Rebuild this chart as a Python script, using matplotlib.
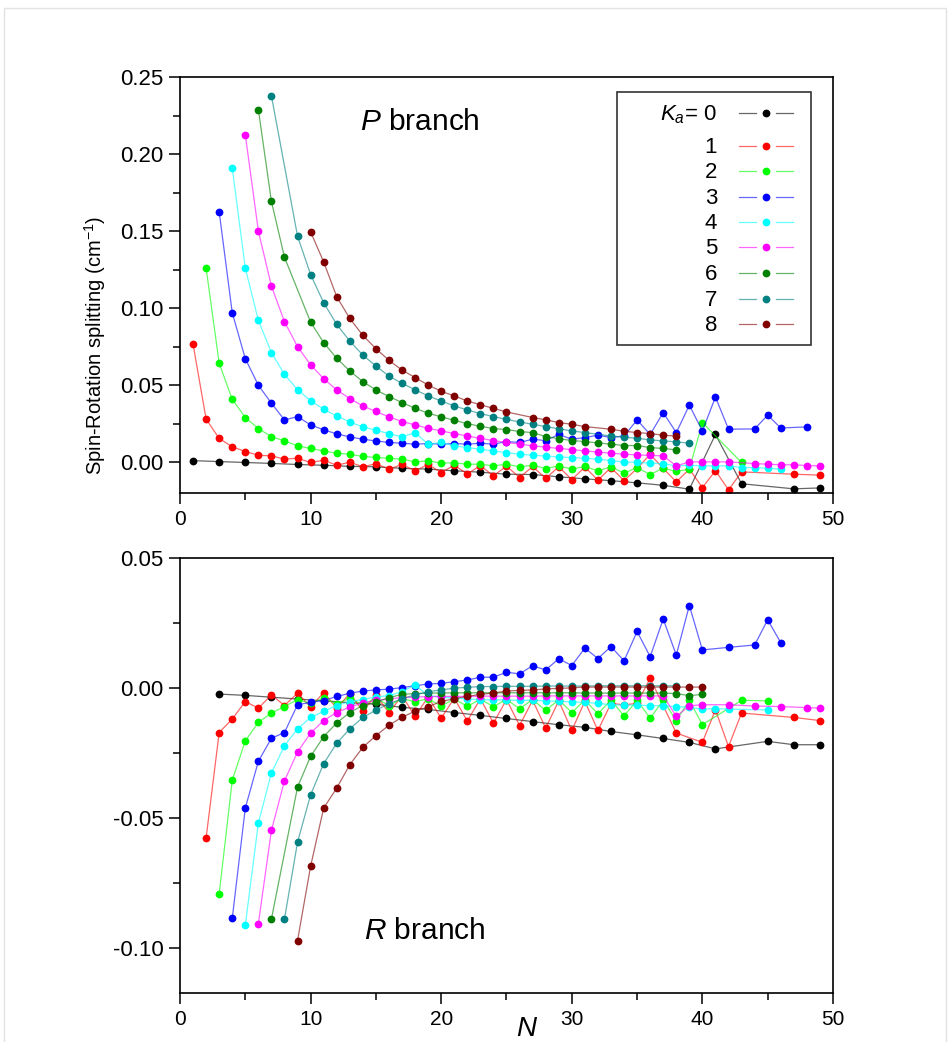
import matplotlib
matplotlib.use("Agg")
from matplotlib import pyplot as plt
from matplotlib.patches import Rectangle
from matplotlib.lines import Line2D
from matplotlib.ticker import MultipleLocator, FormatStrFormatter

plt.rcParams['font.family'] = ['Liberation Sans', 'DejaVu Sans']
plt.rcParams['mathtext.fontset'] = 'custom'
plt.rcParams['mathtext.rm'] = 'Liberation Sans'
plt.rcParams['mathtext.it'] = 'Liberation Sans:italic'

# K_a values and colours
ka = [0, 1, 2, 3, 4, 5, 6, 7, 8]
colors = ["#000000", "#ff0000", "#00ff00", "#0000ff", "#00ffff",
          "#ff00ff", "#008000", "#008080", "#800000"]

# ---- P branch data (N, splitting in cm-1) ----
p_n0 = [1, 3, 5, 7, 9, 11, 13, 15, 17, 19, 21, 23, 25, 27, 29, 31, 33, 35, 37, 39, 41, 43, 47, 49]
p_v0 = [0.001, 0.0004, -0.0002, -0.0008, -0.0015, -0.002, -0.0027, -0.003, -0.004, -0.0045, -0.0056,
        -0.0065, -0.0078, -0.008, -0.0095, -0.0108, -0.012, -0.0134, -0.015, -0.0175, 0.018, -0.014,
        -0.0173, -0.0167]

p_n1 = list(range(1, 44)) + [47, 49]
p_v1 = [0.0766, 0.028, 0.0154, 0.0100, 0.0069, 0.0045, 0.0041, 0.002, 0.0026, -0.0002,
        0.0013, -0.002, 0.0, -0.003, -0.001, -0.0045, -0.0015, -0.0056, -0.0015, -0.0067,
        -0.002, -0.0076, -0.0022, -0.0089, -0.0025, -0.010, -0.0028, -0.0105, -0.003, -0.0113,
        -0.0032, -0.0116, -0.0035, -0.012, -0.004, 0.005, -0.004, -0.0128, -0.0045, -0.0165,
        -0.0055, -0.018, -0.0063, -0.0078, -0.0084]

p_n2 = list(range(2, 41)) + [43]
p_v2 = [0.126, 0.0642, 0.0408, 0.029, 0.0218, 0.0166, 0.0138, 0.0106, 0.0089, 0.0073,
        0.0058, 0.0052, 0.0037, 0.0031, 0.0025, 0.0020, 0.0002, 0.0009, -0.0006, -0.0004,
        -0.0013, -0.0013, -0.0024, -0.0013, -0.003, -0.002, -0.0041, -0.0024, -0.0045, -0.0028,
        -0.0056, -0.003, -0.0071, -0.0035, -0.008, -0.0039, -0.006, -0.0045, 0.0257, -0.0002]

p_n3 = list(range(3, 43)) + [44, 45, 46, 48]
p_v3 = [0.1625, 0.097, 0.0672, 0.0499, 0.0383, 0.0274, 0.0296, 0.0242, 0.021, 0.0184,
        0.0164, 0.0149, 0.0138, 0.0128, 0.0123, 0.0117, 0.0121, 0.0117, 0.0121, 0.0117,
        0.0123, 0.0117, 0.0134, 0.0128, 0.0149, 0.014, 0.018, 0.0149, 0.016, 0.0175,
        0.016, 0.017, 0.0274, 0.018, 0.0322, 0.0192, 0.037, 0.0203, 0.0423, 0.0214,
        0.0216, 0.0305, 0.0222, 0.0229]

p_n4 = list(range(4, 47))
p_v4 = [0.191, 0.126, 0.092, 0.0711, 0.057, 0.047, 0.040, 0.0343, 0.030, 0.0261,
        0.0229, 0.0207, 0.0186, 0.0164, 0.0192, 0.0117, 0.0128, 0.0106, 0.0095, 0.0084,
        0.0073, 0.0062, 0.0052, 0.0045, 0.0040, 0.0034, 0.003, 0.0025, 0.002, 0.001,
        0.0002, -0.0002, -0.0006, -0.001, -0.0024, -0.002, -0.0024, -0.0024, -0.0024, -0.0035,
        -0.0035, -0.004, -0.0045]

p_n5 = list(range(5, 43)) + [44, 45, 46, 47, 48, 49]
p_v5 = [0.2126, 0.150, 0.1143, 0.0912, 0.075, 0.0632, 0.0542, 0.0469, 0.0413, 0.0365,
        0.0329, 0.0294, 0.0264, 0.0242, 0.022, 0.0203, 0.0186, 0.017, 0.0155, 0.014,
        0.0128, 0.0117, 0.0106, 0.0098, 0.0089, 0.0082, 0.0073, 0.0066, 0.0058, 0.0052,
        0.0047, 0.0044, 0.0041, -0.0024, 0.0002, 0.0002, 0.0002, 0.0002,
        -0.0009, -0.0013, -0.0017, -0.0017, -0.0022, -0.0024]

p_n6 = [6, 7, 8] + list(range(10, 39))
p_v6 = [0.2288, 0.1693, 0.133, 0.0909, 0.0776, 0.0674, 0.0592, 0.0523, 0.0469, 0.0426,
        0.0387, 0.035, 0.0318, 0.0294, 0.0272, 0.025, 0.0233, 0.0218, 0.0212, 0.0199,
        0.0192, 0.0166, 0.0153, 0.0140, 0.0134, 0.0125, 0.0117, 0.0108, 0.0108, 0.0095,
        0.0089, 0.008]

p_n7 = [7] + list(range(9, 32)) + list(range(33, 40))
p_v7 = [0.2378, 0.1467, 0.1218, 0.1035, 0.0894, 0.0786, 0.0695, 0.0624, 0.0559, 0.0512,
        0.047, 0.043, 0.0397, 0.0365, 0.0339, 0.0315, 0.0296, 0.0278, 0.0261, 0.0246,
        0.0231, 0.0217, 0.0203, 0.0192, 0.017, 0.0162, 0.0155, 0.0145, 0.0138, 0.0132,
        0.0123]

p_n8 = list(range(10, 26)) + [27, 28, 29, 30, 31, 33, 34, 35, 36, 37, 38]
p_v8 = [0.1495, 0.130, 0.1074, 0.0933, 0.0823, 0.0737, 0.0661, 0.0598, 0.0549, 0.0501,
        0.046, 0.043, 0.0397, 0.0373, 0.0349, 0.0326, 0.029, 0.0275, 0.0257, 0.0246,
        0.0231, 0.0214, 0.0201, 0.0192, 0.0186, 0.0175, 0.017]

# ---- R branch data ----
r_n0 = list(range(3, 42, 2)) + [45, 47, 49]
r_v0 = [-0.0024, -0.0029, -0.0036, -0.0043, -0.005, -0.0057, -0.0063, -0.0075, -0.0083, -0.0095,
        -0.0106, -0.0118, -0.013, -0.0142, -0.0152, -0.0168, -0.0181, -0.0195, -0.021, -0.0235,
        -0.0206, -0.0219, -0.0219]

r_n1 = list(range(2, 37)) + [38, 40, 41, 42, 43, 47, 49]
r_v1 = [-0.0578, -0.0172, -0.012, -0.0053, -0.0078, -0.0027, -0.0068, -0.002, -0.0074, -0.0018,
        -0.0078, -0.0022, -0.009, -0.0028, -0.0096, -0.003, -0.011, -0.0035, -0.0117, -0.004,
        -0.0128, -0.0042, -0.0136, -0.0045, -0.0145, -0.0048, -0.0155, -0.005, -0.0164, -0.0052,
        -0.0164, -0.006, -0.0065, -0.006, 0.0037, -0.0174, -0.021, -0.0085, -0.0226, -0.0097,
        -0.0114, -0.0126]

r_n2 = list(range(3, 41)) + [43, 45]
r_v2 = [-0.0793, -0.0356, -0.0204, -0.0133, -0.0097, -0.0072, -0.0045, -0.006, -0.004, -0.0062,
        -0.004, -0.0065, -0.004, -0.0068, -0.0042, -0.0053, -0.0042, -0.007, -0.0043, -0.0071,
        -0.0044, -0.0072, -0.0045, -0.008, -0.0045, -0.0087, -0.0046, -0.0095, -0.0047, -0.010,
        -0.0047, -0.0108, -0.0048, -0.0117, -0.0048, -0.0126, -0.0048, -0.0142, -0.0048, -0.005]

r_n3 = list(range(4, 41)) + [42, 44, 45, 46]
r_v3 = [-0.0888, -0.0463, -0.0283, -0.0194, -0.0172, -0.0065, -0.0056, -0.0049, -0.0033, -0.0021,
        -0.0012, -0.0008, -0.0005, 0.0001, 0.0008, 0.0015, 0.0017, 0.0024, 0.003, 0.0041,
        0.0041, 0.006, 0.0054, 0.0085, 0.0069, 0.0112, 0.0086, 0.0153, 0.0113, 0.0159,
        0.0104, 0.0217, 0.012, 0.0265, 0.0126, 0.0317, 0.0146, 0.0156, 0.0165, 0.0262,
        0.0174]

r_n4 = list(range(5, 43)) + [45]
r_v4 = [-0.0914, -0.052, -0.0328, -0.0223, -0.0158, -0.0114, -0.009, -0.0068, -0.0053, -0.0045,
        -0.0035, -0.003, -0.0015, 0.0012, -0.003, -0.0035, -0.004, -0.0042, -0.0046, -0.0046,
        -0.0047, -0.0048, -0.0048, -0.005, -0.0052, -0.0054, -0.0056, -0.006, -0.0065, -0.0066,
        -0.0067, -0.0068, -0.0069, -0.0072, -0.0075, -0.0082, -0.008, -0.0082, -0.0085]

r_n5 = list(range(6, 41)) + [42, 44, 46, 48, 49]
r_v5 = [-0.0908, -0.0549, -0.0358, -0.0247, -0.0174, -0.0126, -0.0095, -0.0074, -0.0058, -0.0048,
        -0.0042, -0.0038, -0.0035, -0.0034, -0.0033, -0.0033, -0.0033, -0.0032, -0.0032, -0.0032,
        -0.0032, -0.0032, -0.0031, -0.0031, -0.0031, -0.0031, -0.0031, -0.0031, -0.0031, -0.0031,
        -0.0031, -0.0031, -0.011, -0.0069, -0.0065, -0.0065, -0.007, -0.0072, -0.0076, -0.0078]

r_n6 = [7] + list(range(9, 41))
r_v6 = [-0.089, -0.0382, -0.0264, -0.0188, -0.0135, -0.0095, -0.0068, -0.0055, -0.0038, -0.0025,
        -0.0022, -0.002, -0.002, -0.0019, -0.0019, -0.0019, -0.0019, -0.0019, -0.0019, -0.0019,
        -0.0019, -0.0019, -0.0019, -0.002, -0.002, -0.002, -0.002, -0.002, -0.002, -0.002,
        -0.0022, -0.003, -0.0025]

r_n7 = list(range(8, 39))
r_v7 = [-0.089, -0.0594, -0.0412, -0.0292, -0.0213, -0.0158, -0.0114, -0.0086, -0.0061, -0.0042,
        -0.0027, -0.0015, -0.0008, -0.0001, 0.0002, 0.0005, 0.0005, 0.0006, 0.0006, 0.0006,
        0.0007, 0.0007, 0.0007, 0.0007, 0.0008, 0.0008, 0.0008, 0.0008, 0.0008, 0.0008,
        0.0008]

r_n8 = list(range(9, 41))
r_v8 = [-0.0973, -0.0687, -0.0463, -0.0386, -0.0296, -0.0229, -0.0184, -0.0144, -0.0113, -0.009,
        -0.0073, -0.0052, -0.0042, -0.0033, -0.0025, -0.002, -0.0012, -0.001, -0.0008, -0.0004,
        -0.0002, 0.0, 0.0003, 0.0003, 0.0003, 0.0003, 0.0003, 0.0003, 0.0003, 0.0003,
        0.0003, 0.0003]

p_data = [(p_n0, p_v0), (p_n1, p_v1), (p_n2, p_v2), (p_n3, p_v3), (p_n4, p_v4),
          (p_n5, p_v5), (p_n6, p_v6), (p_n7, p_v7), (p_n8, p_v8)]
r_data = [(r_n0, r_v0), (r_n1, r_v1), (r_n2, r_v2), (r_n3, r_v3), (r_n4, r_v4),
          (r_n5, r_v5), (r_n6, r_v6), (r_n7, r_v7), (r_n8, r_v8)]

W, H = 951, 1042
fig = plt.figure(figsize=(W / 100, H / 100), dpi=100)


def fx(x):
    return x / W


def fy(y):
    return 1 - y / H


# light frame around the picture
fig.patches.append(Rectangle((fx(4), -0.01), fx(942), 1.01 - 8 / H, transform=fig.transFigure,
                             fill=False, edgecolor="#e2e2e2", lw=1.0))

ax1 = fig.add_axes([fx(180), fy(493), fx(653), 416 / H])
ax2 = fig.add_axes([fx(180), fy(993), fx(653), 435 / H])


def draw(ax, data):
    for (n, v), c in zip(data, colors):
        ax.plot(n, v, "-", color=c, lw=0.9, alpha=0.6)
        ax.plot(n, v, "o", color=c, ms=5.6, mew=0)


def style(ax):
    ax.set_xlim(0, 50)
    ax.xaxis.set_major_locator(MultipleLocator(10))
    ax.xaxis.set_minor_locator(MultipleLocator(5))
    ax.yaxis.set_major_locator(MultipleLocator(0.05))
    ax.yaxis.set_minor_locator(MultipleLocator(0.025))
    ax.yaxis.set_major_formatter(FormatStrFormatter("%.2f"))
    ax.tick_params(which="major", direction="out", length=8, width=1.1, pad=4)
    ax.tick_params(which="minor", direction="out", length=5, width=1.1)
    ax.tick_params(axis="y", labelsize=16)
    ax.tick_params(axis="x", labelsize=15)
    ax.tick_params(top=False, right=False)
    for s in ax.spines.values():
        s.set_linewidth(1.2)


draw(ax1, p_data)
draw(ax2, r_data)
style(ax1)
style(ax2)
ax1.set_ylim(-0.02, 0.25)
ax2.set_ylim(-0.1175, 0.05)

fig.text(fx(420), fy(122), "$P$ branch", fontsize=21.5, ha="center", va="center")
fig.text(fx(425), fy(931), "$R$ branch", fontsize=21.5, ha="center", va="center")
fig.text(fx(95), fy(345), "Spin-Rotation splitting (cm$^{-1}$)", fontsize=14.5,
         rotation=90, ha="center", va="center")
fig.text(fx(527), fy(1036), "$N$", fontsize=20, ha="center", va="baseline")

# legend box drawn by hand: label on the left, line-dot-line on the right
fig.patches.append(Rectangle((fx(617), fy(345)), fx(194), 253 / H, transform=fig.transFigure,
                             fill=False, edgecolor="#333333", lw=1.2))
rows = [113, 146, 171, 197, 222, 247, 273, 299, 324]
for k, c, yy in zip(ka, colors, rows):
    label = "$K_a$= 0" if k == 0 else str(k)
    fig.text(fx(717), fy(yy + 7), label, fontsize=16, ha="right", va="baseline")
    for x0, x1 in [(739, 756), (776, 793)]:
        fig.lines.append(Line2D([fx(x0), fx(x1)], [fy(yy), fy(yy)], transform=fig.transFigure,
                                color=c, lw=0.9, alpha=0.6))
    fig.lines.append(Line2D([fx(766)], [fy(yy)], transform=fig.transFigure, marker="o",
                            color=c, ms=5.6, mew=0))

fig.savefig("out.png", dpi=100)
